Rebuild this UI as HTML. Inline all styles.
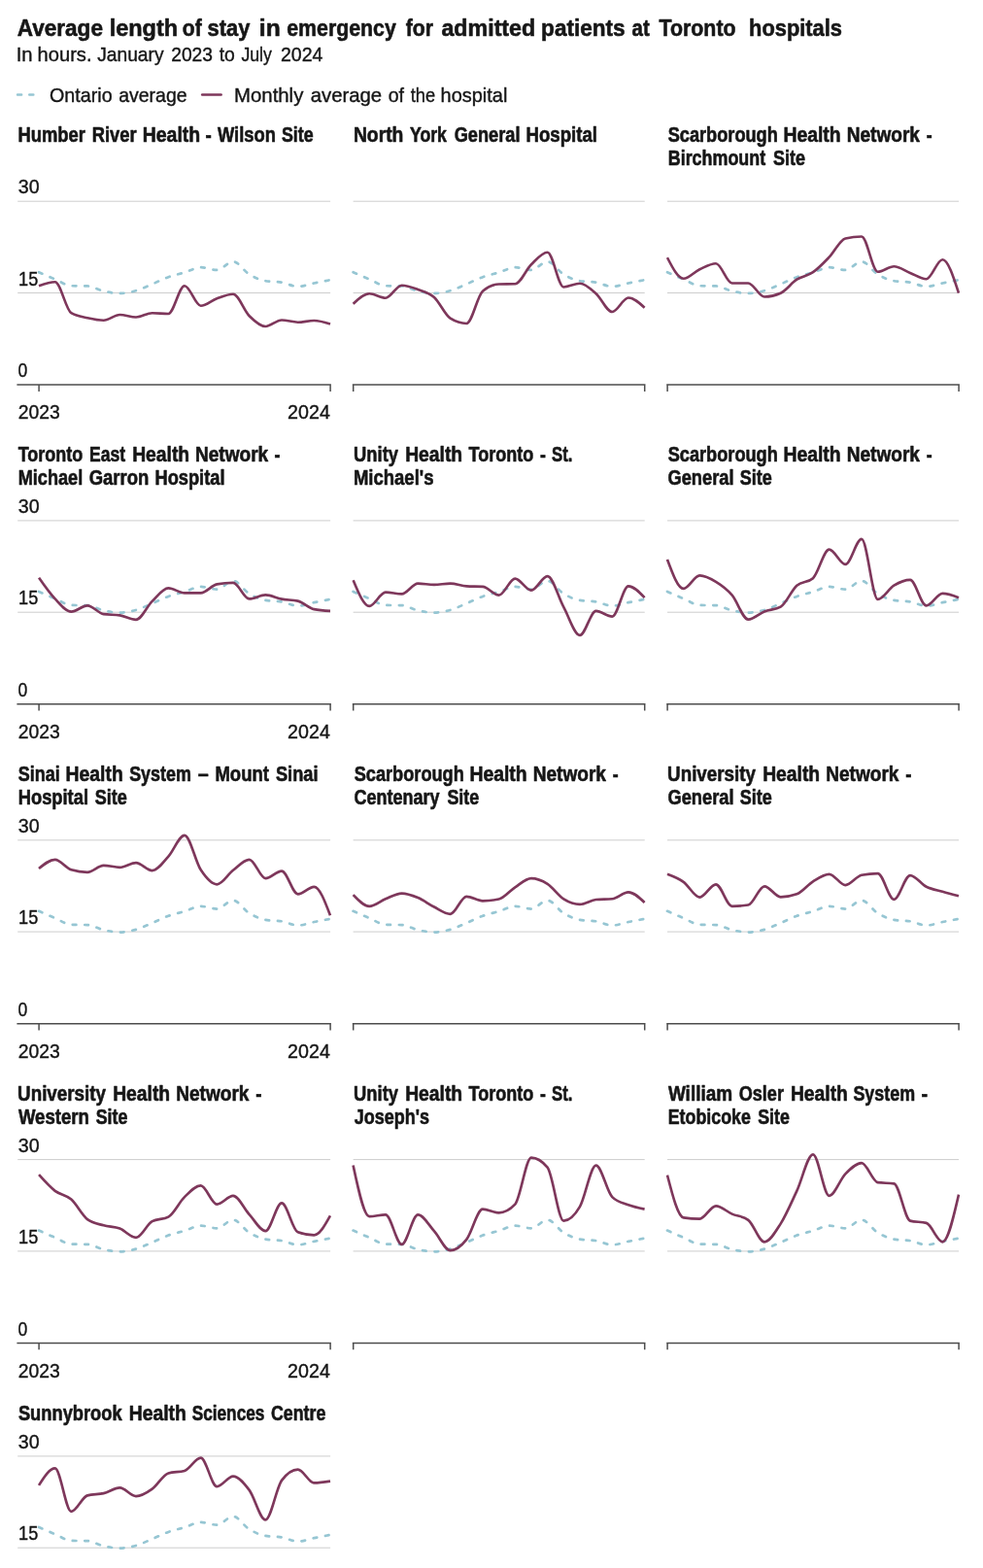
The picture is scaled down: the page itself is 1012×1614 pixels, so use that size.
<!DOCTYPE html>
<html lang="en"><head><meta charset="utf-8"><title>Average length of stay in emergency for admitted patients at Toronto hospitals</title>
<style>html,body{margin:0;padding:0;background:#fff}svg{display:block;font-family:"Liberation Sans",sans-serif}</style>
</head><body>
<svg width="1012" height="1614" viewBox="0 0 1012 1614">
<rect width="1012" height="1614" fill="#fff"/>
<text y="36.60" font-size="24.5" font-weight="700" stroke="#161616" stroke-width="0.6" stroke-linejoin="round" fill="#161616" xml:space="preserve"><tspan x="17.74" textLength="88.22" lengthAdjust="spacingAndGlyphs">Average</tspan> <tspan x="112.66" textLength="70.50" lengthAdjust="spacingAndGlyphs">length</tspan> <tspan x="187.78" textLength="19.88" lengthAdjust="spacingAndGlyphs">of</tspan> <tspan x="213.53" textLength="43.79" lengthAdjust="spacingAndGlyphs">stay</tspan> <tspan x="266.88" textLength="21.84" lengthAdjust="spacingAndGlyphs">in</tspan> <tspan x="295.27" textLength="112.55" lengthAdjust="spacingAndGlyphs">emergency</tspan> <tspan x="417.74" textLength="28.28" lengthAdjust="spacingAndGlyphs">for</tspan> <tspan x="454.42" textLength="96.81" lengthAdjust="spacingAndGlyphs">admitted</tspan> <tspan x="557.11" textLength="86.51" lengthAdjust="spacingAndGlyphs">patients</tspan> <tspan x="650.50" textLength="18.20" lengthAdjust="spacingAndGlyphs">at</tspan> <tspan x="678.57" textLength="78.95" lengthAdjust="spacingAndGlyphs">Toronto</tspan>  <tspan x="771.08" textLength="95.82" lengthAdjust="spacingAndGlyphs">hospitals</tspan></text>
<text y="62.75" font-size="20.7" stroke="#161616" stroke-width="0.4" fill="#161616" xml:space="preserve"><tspan x="16.73" textLength="16.88" lengthAdjust="spacingAndGlyphs">In</tspan> <tspan x="38.60" textLength="55.93" lengthAdjust="spacingAndGlyphs">hours.</tspan> <tspan x="100.20" textLength="68.39" lengthAdjust="spacingAndGlyphs">January</tspan> <tspan x="176.23" textLength="42.81" lengthAdjust="spacingAndGlyphs">2023</tspan> <tspan x="225.71" textLength="16.16" lengthAdjust="spacingAndGlyphs">to</tspan> <tspan x="248.42" textLength="31.41" lengthAdjust="spacingAndGlyphs">July</tspan> <tspan x="288.92" textLength="43.45" lengthAdjust="spacingAndGlyphs">2024</tspan></text>
<path d="M18.1,97.5H40" fill="none" stroke="#96c6d3" stroke-width="2.6" stroke-linecap="round" stroke-dasharray="4,8.2"/>
<text y="104.70" font-size="20.9" stroke="#161616" stroke-width="0.4" fill="#161616" xml:space="preserve"><tspan x="51.07" textLength="64.56" lengthAdjust="spacingAndGlyphs">Ontario</tspan> <tspan x="122.17" textLength="70.50" lengthAdjust="spacingAndGlyphs">average</tspan></text>
<path d="M208.2,97.5H227.6" fill="none" stroke="#7e375b" stroke-width="2.6" stroke-linecap="round"/>
<text y="104.70" font-size="20.9" stroke="#161616" stroke-width="0.4" fill="#161616" xml:space="preserve"><tspan x="241.03" textLength="71.31" lengthAdjust="spacingAndGlyphs">Monthly</tspan> <tspan x="319.64" textLength="73.57" lengthAdjust="spacingAndGlyphs">average</tspan> <tspan x="399.68" textLength="16.34" lengthAdjust="spacingAndGlyphs">of</tspan> <tspan x="422.72" textLength="25.39" lengthAdjust="spacingAndGlyphs">the</tspan> <tspan x="453.62" textLength="68.77" lengthAdjust="spacingAndGlyphs">hospital</tspan></text>
<g>
<text y="146.00" font-size="21.2" font-weight="700" stroke="#161616" stroke-width="0.6" stroke-linejoin="round" fill="#161616" xml:space="preserve"><tspan x="18.47" textLength="69.51" lengthAdjust="spacingAndGlyphs">Humber</tspan> <tspan x="94.77" textLength="45.91" lengthAdjust="spacingAndGlyphs">River</tspan> <tspan x="146.70" textLength="59.51" lengthAdjust="spacingAndGlyphs">Health</tspan> <tspan x="211.46" textLength="6.30" lengthAdjust="spacingAndGlyphs">-</tspan> <tspan x="223.98" textLength="59.85" lengthAdjust="spacingAndGlyphs">Wilson</tspan> <tspan x="289.89" textLength="32.72" lengthAdjust="spacingAndGlyphs">Site</tspan></text>
<rect x="18.2" y="206.70" width="321.90" height="1" fill="#cdcdcd"/>
<rect x="18.2" y="301.00" width="321.90" height="1" fill="#cdcdcd"/>
<path d="M17.40,396.10H340.90M40.10,396.10V402.90M340.10,396.10V402.90" fill="none" stroke="#4d4d4d" stroke-width="1.5"/>
<text x="18.75" y="199.30" font-size="20.9" stroke="#161616" stroke-width="0.4" fill="#161616" textLength="21.81" lengthAdjust="spacingAndGlyphs" xml:space="preserve">30</text>
<text x="19.12" y="293.60" font-size="20.9" stroke="#161616" stroke-width="0.4" fill="#161616" textLength="20.20" lengthAdjust="spacingAndGlyphs" xml:space="preserve">15</text>
<text x="18.61" y="388.20" font-size="20.9" stroke="#161616" stroke-width="0.4" fill="#161616" textLength="9.77" lengthAdjust="spacingAndGlyphs" xml:space="preserve">0</text>
<text x="18.63" y="431.40" font-size="20.9" stroke="#161616" stroke-width="0.4" fill="#161616" textLength="43.02" lengthAdjust="spacingAndGlyphs" xml:space="preserve">2023</text>
<text x="296.11" y="431.40" font-size="20.9" stroke="#161616" stroke-width="0.4" fill="#161616" textLength="43.77" lengthAdjust="spacingAndGlyphs" xml:space="preserve">2024</text>
<path d="M40.00,280.20C45.56,282.66,51.11,285.12,56.67,287.45C62.22,289.78,67.78,294.03,73.33,294.20C78.89,294.37,84.44,294.28,90.00,294.45C95.56,294.62,101.11,298.45,106.67,299.70C112.22,300.95,117.78,301.95,123.33,301.95C128.89,301.95,134.44,300.78,140.00,299.20C145.56,297.62,151.11,294.78,156.67,292.45C162.22,290.12,167.78,287.20,173.33,285.20C178.89,283.20,184.44,282.12,190.00,280.45C195.56,278.78,201.11,275.20,206.67,275.20C212.22,275.20,217.78,277.95,223.33,277.95C228.89,277.95,234.44,269.20,240.00,269.20C245.56,269.20,251.11,279.12,256.67,282.45C262.22,285.78,267.78,288.20,273.33,289.20C278.89,290.20,284.44,289.74,290.00,290.70C295.56,291.66,301.11,294.95,306.67,294.95C312.22,294.95,317.78,292.57,323.33,291.45C328.89,290.32,334.44,289.26,340.00,288.20" fill="none" stroke="#96c6d3" stroke-width="2.7" stroke-linecap="round" stroke-dasharray="3.7,8.85"/>
<path d="M40.00,294.20C45.56,292.20,51.11,290.20,56.67,290.20C62.22,290.20,67.78,318.87,73.33,322.20C78.89,325.53,84.44,325.95,90.00,327.20C95.56,328.45,101.11,329.70,106.67,329.70C112.22,329.70,117.78,323.95,123.33,323.95C128.89,323.95,134.44,326.45,140.00,326.45C145.56,326.45,151.11,322.20,156.67,322.20C162.22,322.20,167.78,322.95,173.33,322.95C178.89,322.95,184.44,294.20,190.00,294.20C195.56,294.20,201.11,314.70,206.67,314.70C212.22,314.70,217.78,309.20,223.33,307.20C228.89,305.20,234.44,302.70,240.00,302.70C245.56,302.70,251.11,319.66,256.67,325.20C262.22,330.74,267.78,335.95,273.33,335.95C278.89,335.95,284.44,329.45,290.00,329.45C295.56,329.45,301.11,331.70,306.67,331.70C312.22,331.70,317.78,329.95,323.33,329.95C328.89,329.95,334.44,331.70,340.00,333.45" fill="none" stroke="#7e375b" stroke-width="2.65" stroke-linecap="butt" stroke-linejoin="round"/>
</g>
<g>
<text y="146.00" font-size="21.2" font-weight="700" stroke="#161616" stroke-width="0.6" stroke-linejoin="round" fill="#161616" xml:space="preserve"><tspan x="363.91" textLength="51.49" lengthAdjust="spacingAndGlyphs">North</tspan> <tspan x="421.91" textLength="38.03" lengthAdjust="spacingAndGlyphs">York</tspan> <tspan x="467.70" textLength="67.79" lengthAdjust="spacingAndGlyphs">General</tspan> <tspan x="541.45" textLength="73.57" lengthAdjust="spacingAndGlyphs">Hospital</tspan></text>
<rect x="363.6" y="206.70" width="300.10" height="1" fill="#cdcdcd"/>
<rect x="363.6" y="301.00" width="300.10" height="1" fill="#cdcdcd"/>
<path d="M362.80,396.10H664.50M363.70,396.10V402.90M663.70,396.10V402.90" fill="none" stroke="#4d4d4d" stroke-width="1.5"/>
<path d="M363.60,280.20C369.16,282.66,374.71,285.12,380.27,287.45C385.82,289.78,391.38,294.03,396.93,294.20C402.49,294.37,408.04,294.28,413.60,294.45C419.16,294.62,424.71,298.45,430.27,299.70C435.82,300.95,441.38,301.95,446.93,301.95C452.49,301.95,458.04,300.78,463.60,299.20C469.16,297.62,474.71,294.78,480.27,292.45C485.82,290.12,491.38,287.20,496.93,285.20C502.49,283.20,508.04,282.12,513.60,280.45C519.16,278.78,524.71,275.20,530.27,275.20C535.82,275.20,541.38,277.95,546.93,277.95C552.49,277.95,558.04,269.20,563.60,269.20C569.16,269.20,574.71,279.12,580.27,282.45C585.82,285.78,591.38,288.20,596.93,289.20C602.49,290.20,608.04,289.74,613.60,290.70C619.16,291.66,624.71,294.95,630.27,294.95C635.82,294.95,641.38,292.57,646.93,291.45C652.49,290.32,658.04,289.26,663.60,288.20" fill="none" stroke="#96c6d3" stroke-width="2.7" stroke-linecap="round" stroke-dasharray="3.7,8.85"/>
<path d="M363.60,312.70C369.16,307.45,374.71,302.20,380.27,302.20C385.82,302.20,391.38,306.70,396.93,306.70C402.49,306.70,408.04,293.70,413.60,293.70C419.16,293.70,424.71,295.91,430.27,297.95C435.82,299.99,441.38,300.99,446.93,305.95C452.49,310.91,458.04,324.20,463.60,327.70C469.16,331.20,474.71,332.95,480.27,332.95C485.82,332.95,491.38,304.53,496.93,299.70C502.49,294.87,508.04,292.62,513.60,292.45C519.16,292.28,524.71,292.37,530.27,292.20C535.82,292.03,541.38,277.62,546.93,272.20C552.49,266.78,558.04,259.70,563.60,259.70C569.16,259.70,574.71,295.45,580.27,295.45C585.82,295.45,591.38,291.70,596.93,291.70C602.49,291.70,608.04,297.32,613.60,302.20C619.16,307.07,624.71,320.95,630.27,320.95C635.82,320.95,641.38,306.45,646.93,306.45C652.49,306.45,658.04,311.57,663.60,316.70" fill="none" stroke="#7e375b" stroke-width="2.65" stroke-linecap="butt" stroke-linejoin="round"/>
</g>
<g>
<text y="146.00" font-size="21.2" font-weight="700" stroke="#161616" stroke-width="0.6" stroke-linejoin="round" fill="#161616" xml:space="preserve"><tspan x="687.68" textLength="113.15" lengthAdjust="spacingAndGlyphs">Scarborough</tspan> <tspan x="806.40" textLength="59.25" lengthAdjust="spacingAndGlyphs">Health</tspan> <tspan x="871.67" textLength="75.26" lengthAdjust="spacingAndGlyphs">Network</tspan> <tspan x="953.76" textLength="5.90" lengthAdjust="spacingAndGlyphs">-</tspan></text>
<text y="170.00" font-size="21.2" font-weight="700" stroke="#161616" stroke-width="0.6" stroke-linejoin="round" fill="#161616" xml:space="preserve"><tspan x="687.75" textLength="100.42" lengthAdjust="spacingAndGlyphs">Birchmount</tspan> <tspan x="796.08" textLength="32.98" lengthAdjust="spacingAndGlyphs">Site</tspan></text>
<rect x="687.0" y="206.70" width="300.10" height="1" fill="#cdcdcd"/>
<rect x="687.0" y="301.00" width="300.10" height="1" fill="#cdcdcd"/>
<path d="M686.20,396.10H987.90M687.10,396.10V402.90M987.10,396.10V402.90" fill="none" stroke="#4d4d4d" stroke-width="1.5"/>
<path d="M687.00,280.20C692.56,282.66,698.11,285.12,703.67,287.45C709.22,289.78,714.78,294.03,720.33,294.20C725.89,294.37,731.44,294.28,737.00,294.45C742.56,294.62,748.11,298.45,753.67,299.70C759.22,300.95,764.78,301.95,770.33,301.95C775.89,301.95,781.44,300.78,787.00,299.20C792.56,297.62,798.11,294.78,803.67,292.45C809.22,290.12,814.78,287.20,820.33,285.20C825.89,283.20,831.44,282.12,837.00,280.45C842.56,278.78,848.11,275.20,853.67,275.20C859.22,275.20,864.78,277.95,870.33,277.95C875.89,277.95,881.44,269.20,887.00,269.20C892.56,269.20,898.11,279.12,903.67,282.45C909.22,285.78,914.78,288.20,920.33,289.20C925.89,290.20,931.44,289.74,937.00,290.70C942.56,291.66,948.11,294.95,953.67,294.95C959.22,294.95,964.78,292.57,970.33,291.45C975.89,290.32,981.44,289.26,987.00,288.20" fill="none" stroke="#96c6d3" stroke-width="2.7" stroke-linecap="round" stroke-dasharray="3.7,8.85"/>
<path d="M687.00,265.20C692.56,275.95,698.11,286.70,703.67,286.70C709.22,286.70,714.78,279.78,720.33,277.20C725.89,274.62,731.44,271.20,737.00,271.20C742.56,271.20,748.11,291.45,753.67,291.45C759.22,291.45,764.78,291.45,770.33,291.45C775.89,291.45,781.44,305.45,787.00,305.45C792.56,305.45,798.11,304.20,803.67,301.70C809.22,299.20,814.78,291.28,820.33,287.70C825.89,284.12,831.44,284.03,837.00,280.20C842.56,276.37,848.11,270.49,853.67,264.70C859.22,258.91,864.78,246.78,870.33,245.45C875.89,244.12,881.44,243.45,887.00,243.45C892.56,243.45,898.11,279.70,903.67,279.70C909.22,279.70,914.78,274.20,920.33,274.20C925.89,274.20,931.44,278.78,937.00,280.95C942.56,283.12,948.11,287.20,953.67,287.20C959.22,287.20,964.78,267.20,970.33,267.20C975.89,267.20,981.44,284.45,987.00,301.70" fill="none" stroke="#7e375b" stroke-width="2.65" stroke-linecap="butt" stroke-linejoin="round"/>
</g>
<g>
<text y="475.00" font-size="21.2" font-weight="700" stroke="#161616" stroke-width="0.6" stroke-linejoin="round" fill="#161616" xml:space="preserve"><tspan x="18.70" textLength="66.69" lengthAdjust="spacingAndGlyphs">Toronto</tspan> <tspan x="92.02" textLength="37.14" lengthAdjust="spacingAndGlyphs">East</tspan> <tspan x="136.16" textLength="58.99" lengthAdjust="spacingAndGlyphs">Health</tspan> <tspan x="200.92" textLength="75.26" lengthAdjust="spacingAndGlyphs">Network</tspan> <tspan x="282.51" textLength="5.90" lengthAdjust="spacingAndGlyphs">-</tspan></text>
<text y="499.00" font-size="21.2" font-weight="700" stroke="#161616" stroke-width="0.6" stroke-linejoin="round" fill="#161616" xml:space="preserve"><tspan x="18.74" textLength="66.50" lengthAdjust="spacingAndGlyphs">Michael</tspan> <tspan x="91.69" textLength="61.66" lengthAdjust="spacingAndGlyphs">Garron</tspan> <tspan x="159.48" textLength="72.01" lengthAdjust="spacingAndGlyphs">Hospital</tspan></text>
<rect x="18.2" y="535.40" width="321.90" height="1" fill="#cdcdcd"/>
<rect x="18.2" y="629.70" width="321.90" height="1" fill="#cdcdcd"/>
<path d="M17.40,724.80H340.90M40.10,724.80V731.60M340.10,724.80V731.60" fill="none" stroke="#4d4d4d" stroke-width="1.5"/>
<text x="18.75" y="528.00" font-size="20.9" stroke="#161616" stroke-width="0.4" fill="#161616" textLength="21.81" lengthAdjust="spacingAndGlyphs" xml:space="preserve">30</text>
<text x="19.12" y="622.30" font-size="20.9" stroke="#161616" stroke-width="0.4" fill="#161616" textLength="20.20" lengthAdjust="spacingAndGlyphs" xml:space="preserve">15</text>
<text x="18.61" y="716.90" font-size="20.9" stroke="#161616" stroke-width="0.4" fill="#161616" textLength="9.77" lengthAdjust="spacingAndGlyphs" xml:space="preserve">0</text>
<text x="18.63" y="760.10" font-size="20.9" stroke="#161616" stroke-width="0.4" fill="#161616" textLength="43.02" lengthAdjust="spacingAndGlyphs" xml:space="preserve">2023</text>
<text x="296.11" y="760.10" font-size="20.9" stroke="#161616" stroke-width="0.4" fill="#161616" textLength="43.77" lengthAdjust="spacingAndGlyphs" xml:space="preserve">2024</text>
<path d="M40.00,608.90C45.56,611.36,51.11,613.82,56.67,616.15C62.22,618.48,67.78,622.73,73.33,622.90C78.89,623.07,84.44,622.98,90.00,623.15C95.56,623.32,101.11,627.15,106.67,628.40C112.22,629.65,117.78,630.65,123.33,630.65C128.89,630.65,134.44,629.48,140.00,627.90C145.56,626.32,151.11,623.48,156.67,621.15C162.22,618.82,167.78,615.90,173.33,613.90C178.89,611.90,184.44,610.82,190.00,609.15C195.56,607.48,201.11,603.90,206.67,603.90C212.22,603.90,217.78,606.65,223.33,606.65C228.89,606.65,234.44,597.90,240.00,597.90C245.56,597.90,251.11,607.82,256.67,611.15C262.22,614.48,267.78,616.90,273.33,617.90C278.89,618.90,284.44,618.44,290.00,619.40C295.56,620.36,301.11,623.65,306.67,623.65C312.22,623.65,317.78,621.27,323.33,620.15C328.89,619.02,334.44,617.96,340.00,616.90" fill="none" stroke="#96c6d3" stroke-width="2.7" stroke-linecap="round" stroke-dasharray="3.7,8.85"/>
<path d="M40.00,594.65C45.56,602.61,51.11,610.57,56.67,616.40C62.22,622.23,67.78,629.65,73.33,629.65C78.89,629.65,84.44,623.40,90.00,623.40C95.56,623.40,101.11,631.32,106.67,632.15C112.22,632.98,117.78,632.57,123.33,633.40C128.89,634.23,134.44,637.90,140.00,637.90C145.56,637.90,151.11,624.32,156.67,618.90C162.22,613.48,167.78,605.40,173.33,605.40C178.89,605.40,184.44,610.40,190.00,610.40C195.56,610.40,201.11,610.40,206.67,610.40C212.22,610.40,217.78,602.40,223.33,601.40C228.89,600.40,234.44,599.90,240.00,599.90C245.56,599.90,251.11,616.40,256.67,616.40C262.22,616.40,267.78,612.40,273.33,612.40C278.89,612.40,284.44,615.61,290.00,616.65C295.56,617.69,301.11,617.32,306.67,618.65C312.22,619.98,317.78,625.98,323.33,627.15C328.89,628.32,334.44,628.61,340.00,628.90" fill="none" stroke="#7e375b" stroke-width="2.65" stroke-linecap="butt" stroke-linejoin="round"/>
</g>
<g>
<text y="475.00" font-size="21.2" font-weight="700" stroke="#161616" stroke-width="0.6" stroke-linejoin="round" fill="#161616" xml:space="preserve"><tspan x="364.10" textLength="45.95" lengthAdjust="spacingAndGlyphs">Unity</tspan> <tspan x="417.16" textLength="58.99" lengthAdjust="spacingAndGlyphs">Health</tspan> <tspan x="482.50" textLength="66.89" lengthAdjust="spacingAndGlyphs">Toronto</tspan> <tspan x="556.01" textLength="5.90" lengthAdjust="spacingAndGlyphs">-</tspan> <tspan x="567.97" textLength="21.38" lengthAdjust="spacingAndGlyphs">St.</tspan></text>
<text y="499.00" font-size="21.2" font-weight="700" stroke="#161616" stroke-width="0.6" stroke-linejoin="round" fill="#161616" xml:space="preserve"><tspan x="363.96" textLength="82.50" lengthAdjust="spacingAndGlyphs">Michael's</tspan></text>
<rect x="363.6" y="535.40" width="300.10" height="1" fill="#cdcdcd"/>
<rect x="363.6" y="629.70" width="300.10" height="1" fill="#cdcdcd"/>
<path d="M362.80,724.80H664.50M363.70,724.80V731.60M663.70,724.80V731.60" fill="none" stroke="#4d4d4d" stroke-width="1.5"/>
<path d="M363.60,608.90C369.16,611.36,374.71,613.82,380.27,616.15C385.82,618.48,391.38,622.73,396.93,622.90C402.49,623.07,408.04,622.98,413.60,623.15C419.16,623.32,424.71,627.15,430.27,628.40C435.82,629.65,441.38,630.65,446.93,630.65C452.49,630.65,458.04,629.48,463.60,627.90C469.16,626.32,474.71,623.48,480.27,621.15C485.82,618.82,491.38,615.90,496.93,613.90C502.49,611.90,508.04,610.82,513.60,609.15C519.16,607.48,524.71,603.90,530.27,603.90C535.82,603.90,541.38,606.65,546.93,606.65C552.49,606.65,558.04,597.90,563.60,597.90C569.16,597.90,574.71,607.82,580.27,611.15C585.82,614.48,591.38,616.90,596.93,617.90C602.49,618.90,608.04,618.44,613.60,619.40C619.16,620.36,624.71,623.65,630.27,623.65C635.82,623.65,641.38,621.27,646.93,620.15C652.49,619.02,658.04,617.96,663.60,616.90" fill="none" stroke="#96c6d3" stroke-width="2.7" stroke-linecap="round" stroke-dasharray="3.7,8.85"/>
<path d="M363.60,597.15C369.16,610.52,374.71,623.90,380.27,623.90C385.82,623.90,391.38,609.65,396.93,609.65C402.49,609.65,408.04,611.40,413.60,611.40C419.16,611.40,424.71,600.65,430.27,600.65C435.82,600.65,441.38,601.90,446.93,601.90C452.49,601.90,458.04,600.65,463.60,600.65C469.16,600.65,474.71,603.07,480.27,603.40C485.82,603.73,491.38,603.57,496.93,603.90C502.49,604.23,508.04,612.65,513.60,612.65C519.16,612.65,524.71,595.65,530.27,595.65C535.82,595.65,541.38,607.65,546.93,607.65C552.49,607.65,558.04,593.15,563.60,593.15C569.16,593.15,574.71,614.77,580.27,624.90C585.82,635.02,591.38,653.90,596.93,653.90C602.49,653.90,608.04,628.90,613.60,628.90C619.16,628.90,624.71,634.65,630.27,634.65C635.82,634.65,641.38,603.40,646.93,603.40C652.49,603.40,658.04,609.27,663.60,615.15" fill="none" stroke="#7e375b" stroke-width="2.65" stroke-linecap="butt" stroke-linejoin="round"/>
</g>
<g>
<text y="475.00" font-size="21.2" font-weight="700" stroke="#161616" stroke-width="0.6" stroke-linejoin="round" fill="#161616" xml:space="preserve"><tspan x="687.68" textLength="113.15" lengthAdjust="spacingAndGlyphs">Scarborough</tspan> <tspan x="806.40" textLength="59.25" lengthAdjust="spacingAndGlyphs">Health</tspan> <tspan x="871.67" textLength="75.26" lengthAdjust="spacingAndGlyphs">Network</tspan> <tspan x="953.76" textLength="5.90" lengthAdjust="spacingAndGlyphs">-</tspan></text>
<text y="499.00" font-size="21.2" font-weight="700" stroke="#161616" stroke-width="0.6" stroke-linejoin="round" fill="#161616" xml:space="preserve"><tspan x="687.45" textLength="68.04" lengthAdjust="spacingAndGlyphs">General</tspan> <tspan x="761.68" textLength="33.03" lengthAdjust="spacingAndGlyphs">Site</tspan></text>
<rect x="687.0" y="535.40" width="300.10" height="1" fill="#cdcdcd"/>
<rect x="687.0" y="629.70" width="300.10" height="1" fill="#cdcdcd"/>
<path d="M686.20,724.80H987.90M687.10,724.80V731.60M987.10,724.80V731.60" fill="none" stroke="#4d4d4d" stroke-width="1.5"/>
<path d="M687.00,608.90C692.56,611.36,698.11,613.82,703.67,616.15C709.22,618.48,714.78,622.73,720.33,622.90C725.89,623.07,731.44,622.98,737.00,623.15C742.56,623.32,748.11,627.15,753.67,628.40C759.22,629.65,764.78,630.65,770.33,630.65C775.89,630.65,781.44,629.48,787.00,627.90C792.56,626.32,798.11,623.48,803.67,621.15C809.22,618.82,814.78,615.90,820.33,613.90C825.89,611.90,831.44,610.82,837.00,609.15C842.56,607.48,848.11,603.90,853.67,603.90C859.22,603.90,864.78,606.65,870.33,606.65C875.89,606.65,881.44,597.90,887.00,597.90C892.56,597.90,898.11,607.82,903.67,611.15C909.22,614.48,914.78,616.90,920.33,617.90C925.89,618.90,931.44,618.44,937.00,619.40C942.56,620.36,948.11,623.65,953.67,623.65C959.22,623.65,964.78,621.27,970.33,620.15C975.89,619.02,981.44,617.96,987.00,616.90" fill="none" stroke="#96c6d3" stroke-width="2.7" stroke-linecap="round" stroke-dasharray="3.7,8.85"/>
<path d="M687.00,575.90C692.56,590.90,698.11,605.90,703.67,605.90C709.22,605.90,714.78,592.40,720.33,592.40C725.89,592.40,731.44,595.52,737.00,598.90C742.56,602.27,748.11,606.19,753.67,612.65C759.22,619.11,764.78,637.65,770.33,637.65C775.89,637.65,781.44,631.57,787.00,629.40C792.56,627.23,798.11,627.82,803.67,624.65C809.22,621.48,814.78,607.57,820.33,602.65C825.89,597.73,831.44,600.15,837.00,595.15C842.56,590.15,848.11,565.65,853.67,565.65C859.22,565.65,864.78,580.90,870.33,580.90C875.89,580.90,881.44,554.90,887.00,554.90C892.56,554.90,898.11,616.90,903.67,616.90C909.22,616.90,914.78,605.98,920.33,602.65C925.89,599.32,931.44,596.90,937.00,596.90C942.56,596.90,948.11,623.40,953.67,623.40C959.22,623.40,964.78,610.90,970.33,610.90C975.89,610.90,981.44,613.02,987.00,615.15" fill="none" stroke="#7e375b" stroke-width="2.65" stroke-linecap="butt" stroke-linejoin="round"/>
</g>
<g>
<text y="804.00" font-size="21.2" font-weight="700" stroke="#161616" stroke-width="0.6" stroke-linejoin="round" fill="#161616" xml:space="preserve"><tspan x="18.78" textLength="42.99" lengthAdjust="spacingAndGlyphs">Sinai</tspan> <tspan x="67.60" textLength="59.20" lengthAdjust="spacingAndGlyphs">Health</tspan> <tspan x="133.18" textLength="63.73" lengthAdjust="spacingAndGlyphs">System</tspan> <tspan x="203.70" textLength="11.01" lengthAdjust="spacingAndGlyphs">–</tspan> <tspan x="221.46" textLength="55.46" lengthAdjust="spacingAndGlyphs">Mount</tspan> <tspan x="283.92" textLength="43.57" lengthAdjust="spacingAndGlyphs">Sinai</tspan></text>
<text y="828.00" font-size="21.2" font-weight="700" stroke="#161616" stroke-width="0.6" stroke-linejoin="round" fill="#161616" xml:space="preserve"><tspan x="18.72" textLength="72.27" lengthAdjust="spacingAndGlyphs">Hospital</tspan> <tspan x="97.68" textLength="33.14" lengthAdjust="spacingAndGlyphs">Site</tspan></text>
<rect x="18.2" y="864.30" width="321.90" height="1" fill="#cdcdcd"/>
<rect x="18.2" y="958.60" width="321.90" height="1" fill="#cdcdcd"/>
<path d="M17.40,1053.70H340.90M40.10,1053.70V1060.50M340.10,1053.70V1060.50" fill="none" stroke="#4d4d4d" stroke-width="1.5"/>
<text x="18.75" y="856.90" font-size="20.9" stroke="#161616" stroke-width="0.4" fill="#161616" textLength="21.81" lengthAdjust="spacingAndGlyphs" xml:space="preserve">30</text>
<text x="19.12" y="951.20" font-size="20.9" stroke="#161616" stroke-width="0.4" fill="#161616" textLength="20.20" lengthAdjust="spacingAndGlyphs" xml:space="preserve">15</text>
<text x="18.61" y="1045.80" font-size="20.9" stroke="#161616" stroke-width="0.4" fill="#161616" textLength="9.77" lengthAdjust="spacingAndGlyphs" xml:space="preserve">0</text>
<text x="18.63" y="1089.00" font-size="20.9" stroke="#161616" stroke-width="0.4" fill="#161616" textLength="43.02" lengthAdjust="spacingAndGlyphs" xml:space="preserve">2023</text>
<text x="296.11" y="1089.00" font-size="20.9" stroke="#161616" stroke-width="0.4" fill="#161616" textLength="43.77" lengthAdjust="spacingAndGlyphs" xml:space="preserve">2024</text>
<path d="M40.00,937.80C45.56,940.26,51.11,942.72,56.67,945.05C62.22,947.38,67.78,951.63,73.33,951.80C78.89,951.97,84.44,951.88,90.00,952.05C95.56,952.22,101.11,956.05,106.67,957.30C112.22,958.55,117.78,959.55,123.33,959.55C128.89,959.55,134.44,958.38,140.00,956.80C145.56,955.22,151.11,952.38,156.67,950.05C162.22,947.72,167.78,944.80,173.33,942.80C178.89,940.80,184.44,939.72,190.00,938.05C195.56,936.38,201.11,932.80,206.67,932.80C212.22,932.80,217.78,935.55,223.33,935.55C228.89,935.55,234.44,926.80,240.00,926.80C245.56,926.80,251.11,936.72,256.67,940.05C262.22,943.38,267.78,945.80,273.33,946.80C278.89,947.80,284.44,947.34,290.00,948.30C295.56,949.26,301.11,952.55,306.67,952.55C312.22,952.55,317.78,950.17,323.33,949.05C328.89,947.92,334.44,946.86,340.00,945.80" fill="none" stroke="#96c6d3" stroke-width="2.7" stroke-linecap="round" stroke-dasharray="3.7,8.85"/>
<path d="M40.00,894.05C45.56,889.42,51.11,884.80,56.67,884.80C62.22,884.80,67.78,893.63,73.33,895.30C78.89,896.97,84.44,897.80,90.00,897.80C95.56,897.80,101.11,890.80,106.67,890.80C112.22,890.80,117.78,892.80,123.33,892.80C128.89,892.80,134.44,888.05,140.00,888.05C145.56,888.05,151.11,896.05,156.67,896.05C162.22,896.05,167.78,887.59,173.33,881.55C178.89,875.51,184.44,859.80,190.00,859.80C195.56,859.80,201.11,886.88,206.67,895.30C212.22,903.72,217.78,910.30,223.33,910.30C228.89,910.30,234.44,900.05,240.00,895.80C245.56,891.55,251.11,884.80,256.67,884.80C262.22,884.80,267.78,904.05,273.33,904.05C278.89,904.05,284.44,896.55,290.00,896.55C295.56,896.55,301.11,920.30,306.67,920.30C312.22,920.30,317.78,912.80,323.33,912.80C328.89,912.80,334.44,927.55,340.00,942.30" fill="none" stroke="#7e375b" stroke-width="2.65" stroke-linecap="butt" stroke-linejoin="round"/>
</g>
<g>
<text y="804.00" font-size="21.2" font-weight="700" stroke="#161616" stroke-width="0.6" stroke-linejoin="round" fill="#161616" xml:space="preserve"><tspan x="364.68" textLength="113.15" lengthAdjust="spacingAndGlyphs">Scarborough</tspan> <tspan x="483.40" textLength="59.25" lengthAdjust="spacingAndGlyphs">Health</tspan> <tspan x="548.67" textLength="75.26" lengthAdjust="spacingAndGlyphs">Network</tspan> <tspan x="630.76" textLength="5.90" lengthAdjust="spacingAndGlyphs">-</tspan></text>
<text y="828.00" font-size="21.2" font-weight="700" stroke="#161616" stroke-width="0.6" stroke-linejoin="round" fill="#161616" xml:space="preserve"><tspan x="364.46" textLength="88.09" lengthAdjust="spacingAndGlyphs">Centenary</tspan> <tspan x="460.44" textLength="32.78" lengthAdjust="spacingAndGlyphs">Site</tspan></text>
<rect x="363.6" y="864.30" width="300.10" height="1" fill="#cdcdcd"/>
<rect x="363.6" y="958.60" width="300.10" height="1" fill="#cdcdcd"/>
<path d="M362.80,1053.70H664.50M363.70,1053.70V1060.50M663.70,1053.70V1060.50" fill="none" stroke="#4d4d4d" stroke-width="1.5"/>
<path d="M363.60,937.80C369.16,940.26,374.71,942.72,380.27,945.05C385.82,947.38,391.38,951.63,396.93,951.80C402.49,951.97,408.04,951.88,413.60,952.05C419.16,952.22,424.71,956.05,430.27,957.30C435.82,958.55,441.38,959.55,446.93,959.55C452.49,959.55,458.04,958.38,463.60,956.80C469.16,955.22,474.71,952.38,480.27,950.05C485.82,947.72,491.38,944.80,496.93,942.80C502.49,940.80,508.04,939.72,513.60,938.05C519.16,936.38,524.71,932.80,530.27,932.80C535.82,932.80,541.38,935.55,546.93,935.55C552.49,935.55,558.04,926.80,563.60,926.80C569.16,926.80,574.71,936.72,580.27,940.05C585.82,943.38,591.38,945.80,596.93,946.80C602.49,947.80,608.04,947.34,613.60,948.30C619.16,949.26,624.71,952.55,630.27,952.55C635.82,952.55,641.38,950.17,646.93,949.05C652.49,947.92,658.04,946.86,663.60,945.80" fill="none" stroke="#96c6d3" stroke-width="2.7" stroke-linecap="round" stroke-dasharray="3.7,8.85"/>
<path d="M363.60,921.05C369.16,926.92,374.71,932.80,380.27,932.80C385.82,932.80,391.38,927.51,396.93,925.30C402.49,923.09,408.04,919.55,413.60,919.55C419.16,919.55,424.71,921.72,430.27,924.05C435.82,926.38,441.38,930.76,446.93,933.55C452.49,936.34,458.04,940.80,463.60,940.80C469.16,940.80,474.71,922.80,480.27,922.80C485.82,922.80,491.38,927.30,496.93,927.30C502.49,927.30,508.04,926.72,513.60,925.55C519.16,924.38,524.71,916.88,530.27,913.30C535.82,909.72,541.38,904.05,546.93,904.05C552.49,904.05,558.04,906.26,563.60,909.80C569.16,913.34,574.71,921.80,580.27,925.30C585.82,928.80,591.38,930.80,596.93,930.80C602.49,930.80,608.04,926.55,613.60,926.05C619.16,925.55,624.71,925.80,630.27,925.30C635.82,924.80,641.38,918.30,646.93,918.30C652.49,918.30,658.04,923.67,663.60,929.05" fill="none" stroke="#7e375b" stroke-width="2.65" stroke-linecap="butt" stroke-linejoin="round"/>
</g>
<g>
<text y="804.00" font-size="21.2" font-weight="700" stroke="#161616" stroke-width="0.6" stroke-linejoin="round" fill="#161616" xml:space="preserve"><tspan x="687.07" textLength="90.98" lengthAdjust="spacingAndGlyphs">University</tspan> <tspan x="785.16" textLength="58.99" lengthAdjust="spacingAndGlyphs">Health</tspan> <tspan x="850.17" textLength="75.26" lengthAdjust="spacingAndGlyphs">Network</tspan> <tspan x="932.22" textLength="6.23" lengthAdjust="spacingAndGlyphs">-</tspan></text>
<text y="828.00" font-size="21.2" font-weight="700" stroke="#161616" stroke-width="0.6" stroke-linejoin="round" fill="#161616" xml:space="preserve"><tspan x="687.45" textLength="68.04" lengthAdjust="spacingAndGlyphs">General</tspan> <tspan x="761.68" textLength="33.03" lengthAdjust="spacingAndGlyphs">Site</tspan></text>
<rect x="687.0" y="864.30" width="300.10" height="1" fill="#cdcdcd"/>
<rect x="687.0" y="958.60" width="300.10" height="1" fill="#cdcdcd"/>
<path d="M686.20,1053.70H987.90M687.10,1053.70V1060.50M987.10,1053.70V1060.50" fill="none" stroke="#4d4d4d" stroke-width="1.5"/>
<path d="M687.00,937.80C692.56,940.26,698.11,942.72,703.67,945.05C709.22,947.38,714.78,951.63,720.33,951.80C725.89,951.97,731.44,951.88,737.00,952.05C742.56,952.22,748.11,956.05,753.67,957.30C759.22,958.55,764.78,959.55,770.33,959.55C775.89,959.55,781.44,958.38,787.00,956.80C792.56,955.22,798.11,952.38,803.67,950.05C809.22,947.72,814.78,944.80,820.33,942.80C825.89,940.80,831.44,939.72,837.00,938.05C842.56,936.38,848.11,932.80,853.67,932.80C859.22,932.80,864.78,935.55,870.33,935.55C875.89,935.55,881.44,926.80,887.00,926.80C892.56,926.80,898.11,936.72,903.67,940.05C909.22,943.38,914.78,945.80,920.33,946.80C925.89,947.80,931.44,947.34,937.00,948.30C942.56,949.26,948.11,952.55,953.67,952.55C959.22,952.55,964.78,950.17,970.33,949.05C975.89,947.92,981.44,946.86,987.00,945.80" fill="none" stroke="#96c6d3" stroke-width="2.7" stroke-linecap="round" stroke-dasharray="3.7,8.85"/>
<path d="M687.00,899.80C692.56,901.82,698.11,903.84,703.67,907.80C709.22,911.76,714.78,923.55,720.33,923.55C725.89,923.55,731.44,910.30,737.00,910.30C742.56,910.30,748.11,932.80,753.67,932.80C759.22,932.80,764.78,932.38,770.33,931.55C775.89,930.72,781.44,912.30,787.00,912.30C792.56,912.30,798.11,923.30,803.67,923.30C809.22,923.30,814.78,922.30,820.33,920.30C825.89,918.30,831.44,910.72,837.00,907.30C842.56,903.88,848.11,899.80,853.67,899.80C859.22,899.80,864.78,911.05,870.33,911.05C875.89,911.05,881.44,901.97,887.00,900.80C892.56,899.63,898.11,899.05,903.67,899.05C909.22,899.05,914.78,925.80,920.33,925.80C925.89,925.80,931.44,901.05,937.00,901.05C942.56,901.05,948.11,910.01,953.67,912.80C959.22,915.59,964.78,916.22,970.33,917.80C975.89,919.38,981.44,920.84,987.00,922.30" fill="none" stroke="#7e375b" stroke-width="2.65" stroke-linecap="butt" stroke-linejoin="round"/>
</g>
<g>
<text y="1133.00" font-size="21.2" font-weight="700" stroke="#161616" stroke-width="0.6" stroke-linejoin="round" fill="#161616" xml:space="preserve"><tspan x="18.07" textLength="90.98" lengthAdjust="spacingAndGlyphs">University</tspan> <tspan x="116.16" textLength="58.99" lengthAdjust="spacingAndGlyphs">Health</tspan> <tspan x="181.17" textLength="75.26" lengthAdjust="spacingAndGlyphs">Network</tspan> <tspan x="263.22" textLength="6.23" lengthAdjust="spacingAndGlyphs">-</tspan></text>
<text y="1157.00" font-size="21.2" font-weight="700" stroke="#161616" stroke-width="0.6" stroke-linejoin="round" fill="#161616" xml:space="preserve"><tspan x="18.88" textLength="72.96" lengthAdjust="spacingAndGlyphs">Western</tspan> <tspan x="98.69" textLength="32.62" lengthAdjust="spacingAndGlyphs">Site</tspan></text>
<rect x="18.2" y="1193.10" width="321.90" height="1" fill="#cdcdcd"/>
<rect x="18.2" y="1287.40" width="321.90" height="1" fill="#cdcdcd"/>
<path d="M17.40,1382.50H340.90M40.10,1382.50V1389.30M340.10,1382.50V1389.30" fill="none" stroke="#4d4d4d" stroke-width="1.5"/>
<text x="18.75" y="1185.70" font-size="20.9" stroke="#161616" stroke-width="0.4" fill="#161616" textLength="21.81" lengthAdjust="spacingAndGlyphs" xml:space="preserve">30</text>
<text x="19.12" y="1280.00" font-size="20.9" stroke="#161616" stroke-width="0.4" fill="#161616" textLength="20.20" lengthAdjust="spacingAndGlyphs" xml:space="preserve">15</text>
<text x="18.61" y="1374.60" font-size="20.9" stroke="#161616" stroke-width="0.4" fill="#161616" textLength="9.77" lengthAdjust="spacingAndGlyphs" xml:space="preserve">0</text>
<text x="18.63" y="1417.80" font-size="20.9" stroke="#161616" stroke-width="0.4" fill="#161616" textLength="43.02" lengthAdjust="spacingAndGlyphs" xml:space="preserve">2023</text>
<text x="296.11" y="1417.80" font-size="20.9" stroke="#161616" stroke-width="0.4" fill="#161616" textLength="43.77" lengthAdjust="spacingAndGlyphs" xml:space="preserve">2024</text>
<path d="M40.00,1266.60C45.56,1269.06,51.11,1271.52,56.67,1273.85C62.22,1276.18,67.78,1280.43,73.33,1280.60C78.89,1280.77,84.44,1280.68,90.00,1280.85C95.56,1281.02,101.11,1284.85,106.67,1286.10C112.22,1287.35,117.78,1288.35,123.33,1288.35C128.89,1288.35,134.44,1287.18,140.00,1285.60C145.56,1284.02,151.11,1281.18,156.67,1278.85C162.22,1276.52,167.78,1273.60,173.33,1271.60C178.89,1269.60,184.44,1268.52,190.00,1266.85C195.56,1265.18,201.11,1261.60,206.67,1261.60C212.22,1261.60,217.78,1264.35,223.33,1264.35C228.89,1264.35,234.44,1255.60,240.00,1255.60C245.56,1255.60,251.11,1265.52,256.67,1268.85C262.22,1272.18,267.78,1274.60,273.33,1275.60C278.89,1276.60,284.44,1276.14,290.00,1277.10C295.56,1278.06,301.11,1281.35,306.67,1281.35C312.22,1281.35,317.78,1278.97,323.33,1277.85C328.89,1276.72,334.44,1275.66,340.00,1274.60" fill="none" stroke="#96c6d3" stroke-width="2.7" stroke-linecap="round" stroke-dasharray="3.7,8.85"/>
<path d="M40.00,1209.10C45.56,1215.35,51.11,1221.60,56.67,1225.85C62.22,1230.10,67.78,1229.72,73.33,1234.60C78.89,1239.47,84.44,1250.93,90.00,1255.10C95.56,1259.27,101.11,1259.77,106.67,1261.35C112.22,1262.93,117.78,1262.52,123.33,1264.60C128.89,1266.68,134.44,1273.85,140.00,1273.85C145.56,1273.85,151.11,1260.10,156.67,1257.10C162.22,1254.10,167.78,1255.60,173.33,1252.60C178.89,1249.60,184.44,1237.47,190.00,1232.10C195.56,1226.72,201.11,1220.35,206.67,1220.35C212.22,1220.35,217.78,1239.60,223.33,1239.60C228.89,1239.60,234.44,1230.85,240.00,1230.85C245.56,1230.85,251.11,1244.06,256.67,1250.10C262.22,1256.14,267.78,1267.10,273.33,1267.10C278.89,1267.10,284.44,1238.35,290.00,1238.35C295.56,1238.35,301.11,1266.35,306.67,1268.35C312.22,1270.35,317.78,1271.35,323.33,1271.35C328.89,1271.35,334.44,1261.35,340.00,1251.35" fill="none" stroke="#7e375b" stroke-width="2.65" stroke-linecap="butt" stroke-linejoin="round"/>
</g>
<g>
<text y="1133.00" font-size="21.2" font-weight="700" stroke="#161616" stroke-width="0.6" stroke-linejoin="round" fill="#161616" xml:space="preserve"><tspan x="364.10" textLength="45.95" lengthAdjust="spacingAndGlyphs">Unity</tspan> <tspan x="417.16" textLength="58.99" lengthAdjust="spacingAndGlyphs">Health</tspan> <tspan x="482.50" textLength="66.89" lengthAdjust="spacingAndGlyphs">Toronto</tspan> <tspan x="556.01" textLength="5.90" lengthAdjust="spacingAndGlyphs">-</tspan> <tspan x="567.97" textLength="21.38" lengthAdjust="spacingAndGlyphs">St.</tspan></text>
<text y="1157.00" font-size="21.2" font-weight="700" stroke="#161616" stroke-width="0.6" stroke-linejoin="round" fill="#161616" xml:space="preserve"><tspan x="364.73" textLength="77.21" lengthAdjust="spacingAndGlyphs">Joseph's</tspan></text>
<rect x="363.6" y="1193.10" width="300.10" height="1" fill="#cdcdcd"/>
<rect x="363.6" y="1287.40" width="300.10" height="1" fill="#cdcdcd"/>
<path d="M362.80,1382.50H664.50M363.70,1382.50V1389.30M663.70,1382.50V1389.30" fill="none" stroke="#4d4d4d" stroke-width="1.5"/>
<path d="M363.60,1266.60C369.16,1269.06,374.71,1271.52,380.27,1273.85C385.82,1276.18,391.38,1280.43,396.93,1280.60C402.49,1280.77,408.04,1280.68,413.60,1280.85C419.16,1281.02,424.71,1284.85,430.27,1286.10C435.82,1287.35,441.38,1288.35,446.93,1288.35C452.49,1288.35,458.04,1287.18,463.60,1285.60C469.16,1284.02,474.71,1281.18,480.27,1278.85C485.82,1276.52,491.38,1273.60,496.93,1271.60C502.49,1269.60,508.04,1268.52,513.60,1266.85C519.16,1265.18,524.71,1261.60,530.27,1261.60C535.82,1261.60,541.38,1264.35,546.93,1264.35C552.49,1264.35,558.04,1255.60,563.60,1255.60C569.16,1255.60,574.71,1265.52,580.27,1268.85C585.82,1272.18,591.38,1274.60,596.93,1275.60C602.49,1276.60,608.04,1276.14,613.60,1277.10C619.16,1278.06,624.71,1281.35,630.27,1281.35C635.82,1281.35,641.38,1278.97,646.93,1277.85C652.49,1276.72,658.04,1275.66,663.60,1274.60" fill="none" stroke="#96c6d3" stroke-width="2.7" stroke-linecap="round" stroke-dasharray="3.7,8.85"/>
<path d="M363.60,1199.60C369.16,1225.85,374.71,1252.10,380.27,1252.10C385.82,1252.10,391.38,1250.35,396.93,1250.35C402.49,1250.35,408.04,1280.85,413.60,1280.85C419.16,1280.85,424.71,1250.35,430.27,1250.35C435.82,1250.35,441.38,1260.97,446.93,1267.10C452.49,1273.22,458.04,1287.10,463.60,1287.10C469.16,1287.10,474.71,1282.93,480.27,1275.85C485.82,1268.77,491.38,1244.60,496.93,1244.60C502.49,1244.60,508.04,1248.35,513.60,1248.35C519.16,1248.35,524.71,1245.43,530.27,1239.60C535.82,1233.77,541.38,1191.60,546.93,1191.60C552.49,1191.60,558.04,1194.93,563.60,1201.60C569.16,1208.27,574.71,1256.60,580.27,1256.60C585.82,1256.60,591.38,1251.60,596.93,1242.10C602.49,1232.60,608.04,1199.60,613.60,1199.60C619.16,1199.60,624.71,1226.60,630.27,1232.10C635.82,1237.60,641.38,1238.27,646.93,1240.35C652.49,1242.43,658.04,1243.52,663.60,1244.60" fill="none" stroke="#7e375b" stroke-width="2.65" stroke-linecap="butt" stroke-linejoin="round"/>
</g>
<g>
<text y="1133.00" font-size="21.2" font-weight="700" stroke="#161616" stroke-width="0.6" stroke-linejoin="round" fill="#161616" xml:space="preserve"><tspan x="687.88" textLength="66.24" lengthAdjust="spacingAndGlyphs">William</tspan> <tspan x="760.71" textLength="46.27" lengthAdjust="spacingAndGlyphs">Osler</tspan> <tspan x="813.91" textLength="58.99" lengthAdjust="spacingAndGlyphs">Health</tspan> <tspan x="878.43" textLength="63.62" lengthAdjust="spacingAndGlyphs">System</tspan> <tspan x="948.43" textLength="6.56" lengthAdjust="spacingAndGlyphs">-</tspan></text>
<text y="1157.00" font-size="21.2" font-weight="700" stroke="#161616" stroke-width="0.6" stroke-linejoin="round" fill="#161616" xml:space="preserve"><tspan x="687.76" textLength="85.05" lengthAdjust="spacingAndGlyphs">Etobicoke</tspan> <tspan x="780.19" textLength="32.62" lengthAdjust="spacingAndGlyphs">Site</tspan></text>
<rect x="687.0" y="1193.10" width="300.10" height="1" fill="#cdcdcd"/>
<rect x="687.0" y="1287.40" width="300.10" height="1" fill="#cdcdcd"/>
<path d="M686.20,1382.50H987.90M687.10,1382.50V1389.30M987.10,1382.50V1389.30" fill="none" stroke="#4d4d4d" stroke-width="1.5"/>
<path d="M687.00,1266.60C692.56,1269.06,698.11,1271.52,703.67,1273.85C709.22,1276.18,714.78,1280.43,720.33,1280.60C725.89,1280.77,731.44,1280.68,737.00,1280.85C742.56,1281.02,748.11,1284.85,753.67,1286.10C759.22,1287.35,764.78,1288.35,770.33,1288.35C775.89,1288.35,781.44,1287.18,787.00,1285.60C792.56,1284.02,798.11,1281.18,803.67,1278.85C809.22,1276.52,814.78,1273.60,820.33,1271.60C825.89,1269.60,831.44,1268.52,837.00,1266.85C842.56,1265.18,848.11,1261.60,853.67,1261.60C859.22,1261.60,864.78,1264.35,870.33,1264.35C875.89,1264.35,881.44,1255.60,887.00,1255.60C892.56,1255.60,898.11,1265.52,903.67,1268.85C909.22,1272.18,914.78,1274.60,920.33,1275.60C925.89,1276.60,931.44,1276.14,937.00,1277.10C942.56,1278.06,948.11,1281.35,953.67,1281.35C959.22,1281.35,964.78,1278.97,970.33,1277.85C975.89,1276.72,981.44,1275.66,987.00,1274.60" fill="none" stroke="#96c6d3" stroke-width="2.7" stroke-linecap="round" stroke-dasharray="3.7,8.85"/>
<path d="M687.00,1209.60C692.56,1231.06,698.11,1252.52,703.67,1253.35C709.22,1254.18,714.78,1254.60,720.33,1254.60C725.89,1254.60,731.44,1241.35,737.00,1241.35C742.56,1241.35,748.11,1247.18,753.67,1249.60C759.22,1252.02,764.78,1251.68,770.33,1255.85C775.89,1260.02,781.44,1278.35,787.00,1278.35C792.56,1278.35,798.11,1268.35,803.67,1259.60C809.22,1250.85,814.78,1237.72,820.33,1225.85C825.89,1213.97,831.44,1188.35,837.00,1188.35C842.56,1188.35,848.11,1230.85,853.67,1230.85C859.22,1230.85,864.78,1213.97,870.33,1208.35C875.89,1202.72,881.44,1197.10,887.00,1197.10C892.56,1197.10,898.11,1216.27,903.67,1217.10C909.22,1217.93,914.78,1217.52,920.33,1218.35C925.89,1219.18,931.44,1255.10,937.00,1256.60C942.56,1258.10,948.11,1257.35,953.67,1258.85C959.22,1260.35,964.78,1278.35,970.33,1278.35C975.89,1278.35,981.44,1253.97,987.00,1229.60" fill="none" stroke="#7e375b" stroke-width="2.65" stroke-linecap="butt" stroke-linejoin="round"/>
</g>
<g>
<text y="1462.00" font-size="21.2" font-weight="700" stroke="#161616" stroke-width="0.6" stroke-linejoin="round" fill="#161616" xml:space="preserve"><tspan x="18.92" textLength="106.76" lengthAdjust="spacingAndGlyphs">Sunnybrook</tspan> <tspan x="132.65" textLength="59.25" lengthAdjust="spacingAndGlyphs">Health</tspan> <tspan x="197.70" textLength="74.70" lengthAdjust="spacingAndGlyphs">Sciences</tspan> <tspan x="278.97" textLength="56.34" lengthAdjust="spacingAndGlyphs">Centre</tspan></text>
<rect x="18.2" y="1498.40" width="321.90" height="1" fill="#cdcdcd"/>
<rect x="18.2" y="1592.70" width="321.90" height="1" fill="#cdcdcd"/>
<text x="18.75" y="1491.00" font-size="20.9" stroke="#161616" stroke-width="0.4" fill="#161616" textLength="21.81" lengthAdjust="spacingAndGlyphs" xml:space="preserve">30</text>
<text x="19.12" y="1585.30" font-size="20.9" stroke="#161616" stroke-width="0.4" fill="#161616" textLength="20.20" lengthAdjust="spacingAndGlyphs" xml:space="preserve">15</text>
<path d="M40.00,1571.90C45.56,1574.36,51.11,1576.82,56.67,1579.15C62.22,1581.48,67.78,1585.73,73.33,1585.90C78.89,1586.07,84.44,1585.98,90.00,1586.15C95.56,1586.32,101.11,1590.15,106.67,1591.40C112.22,1592.65,117.78,1593.65,123.33,1593.65C128.89,1593.65,134.44,1592.48,140.00,1590.90C145.56,1589.32,151.11,1586.48,156.67,1584.15C162.22,1581.82,167.78,1578.90,173.33,1576.90C178.89,1574.90,184.44,1573.82,190.00,1572.15C195.56,1570.48,201.11,1566.90,206.67,1566.90C212.22,1566.90,217.78,1569.65,223.33,1569.65C228.89,1569.65,234.44,1560.90,240.00,1560.90C245.56,1560.90,251.11,1570.82,256.67,1574.15C262.22,1577.48,267.78,1579.90,273.33,1580.90C278.89,1581.90,284.44,1581.44,290.00,1582.40C295.56,1583.36,301.11,1586.65,306.67,1586.65C312.22,1586.65,317.78,1584.28,323.33,1583.15C328.89,1582.03,334.44,1580.96,340.00,1579.90" fill="none" stroke="#96c6d3" stroke-width="2.7" stroke-linecap="round" stroke-dasharray="3.7,8.85"/>
<path d="M40.00,1528.90C45.56,1520.15,51.11,1511.40,56.67,1511.40C62.22,1511.40,67.78,1555.90,73.33,1555.90C78.89,1555.90,84.44,1540.90,90.00,1539.40C95.56,1537.90,101.11,1538.48,106.67,1537.15C112.22,1535.82,117.78,1531.40,123.33,1531.40C128.89,1531.40,134.44,1540.15,140.00,1540.15C145.56,1540.15,151.11,1536.61,156.67,1532.65C162.22,1528.69,167.78,1518.07,173.33,1516.40C178.89,1514.73,184.44,1515.57,190.00,1513.90C195.56,1512.23,201.11,1500.65,206.67,1500.65C212.22,1500.65,217.78,1530.15,223.33,1530.15C228.89,1530.15,234.44,1519.65,240.00,1519.65C245.56,1519.65,251.11,1526.44,256.67,1533.90C262.22,1541.36,267.78,1564.40,273.33,1564.40C278.89,1564.40,284.44,1531.40,290.00,1523.90C295.56,1516.40,301.11,1512.65,306.67,1512.65C312.22,1512.65,317.78,1526.40,323.33,1526.40C328.89,1526.40,334.44,1525.53,340.00,1524.65" fill="none" stroke="#7e375b" stroke-width="2.65" stroke-linecap="butt" stroke-linejoin="round"/>
</g>
</svg>
</body></html>
